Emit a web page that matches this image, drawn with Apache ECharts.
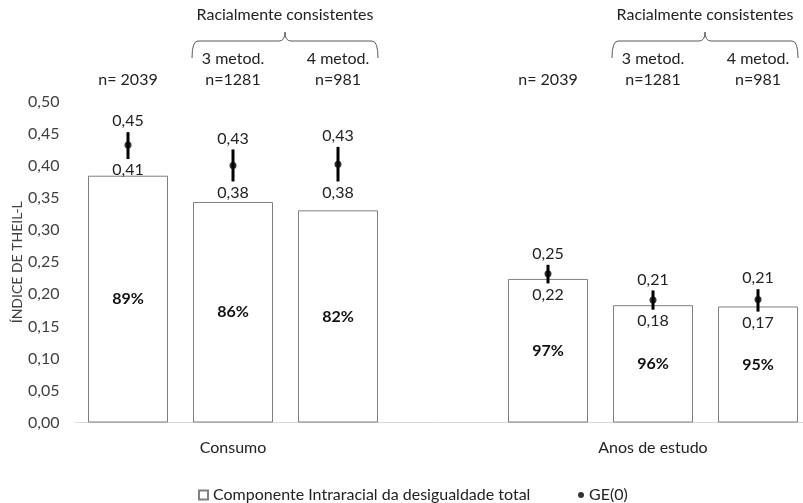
<!DOCTYPE html>
<html>
<head>
<meta charset="utf-8">
<script src="https://cdn.jsdelivr.net/npm/echarts@6/dist/echarts.min.js"></script>
<style>
  html, body { margin: 0; padding: 0; background: #fff; }
  #chart { width: 803px; height: 503px; }
</style>
</head>
<body>
<div id="chart"></div>
<script>
// categorias (o slot 3 fica vazio, separa os dois grupos)
const groupLabels = ['', 'Consumo', '', '', '', 'Anos de estudo', ''];
const sampleLabels = ['n= 2039', '3 metod.\nn=1281', '4 metod.\nn=981', '', 'n= 2039', '3 metod.\nn=1281', '4 metod.\nn=981'];

// componente intraracial (barras) e participação no total
const intraracial = [0.385, 0.344, 0.331, '-', 0.224, 0.183, 0.181];
const intraShare = ['89%', '86%', '82%', '', '97%', '96%', '95%'];

// GE(0) e intervalo
const ge0 = [0.433, 0.401, 0.403, '-', 0.232, 0.191, 0.192];
const ciLow = [0.411, 0.376, 0.376, '-', 0.217, 0.176, 0.173];
const ciHigh = [0.453, 0.426, 0.430, '-', 0.246, 0.206, 0.208];

// chaves "Racialmente consistentes" (índices das categorias)
const bracketText = 'Racialmente consistentes';
const bracketSpans = [[1, 2], [5, 6]];

const FONT = 'Lato, "Open Sans", sans-serif';
const FS = 16;
const fmt = (v) => v.toFixed(2).replace('.', ',');

const errData = [];
ge0.forEach((v, i) => {
    if (v !== '-') errData.push([i, ciLow[i], ciHigh[i]]);
});

const chart = echarts.init(document.getElementById('chart'));

const options = {
    animation: false,
    textStyle: { fontFamily: FONT },
    // o grid passa um pouco da borda direita, como no original
    grid: {
        left: 75.5,
        top: 102,
        width: 735,
        height: 320.5,
        outerBoundsMode: 'none'
    },
    legend: [
        {
            data: ['Componente Intraracial da desigualdade total'],
            left: 193,
            top: 482,
            icon: 'rect',
            itemWidth: 9,
            itemHeight: 9,
            itemGap: 4,
            textStyle: { fontSize: FS, color: '#222', fontFamily: FONT }
        },
        {
            data: ['GE(0)'],
            left: 573,
            top: 482,
            icon: 'circle',
            itemWidth: 6,
            itemHeight: 6,
            itemGap: 4,
            textStyle: { fontSize: FS, color: '#222', fontFamily: FONT }
        }
    ],
    xAxis: [
        {
            type: 'category',
            data: groupLabels,
            axisLine: { lineStyle: { color: '#d9d9d9', width: 1 } },
            axisTick: { show: false },
            axisLabel: {
                interval: 0,
                margin: 17,
                fontSize: FS,
                color: '#222',
                fontFamily: FONT
            }
        },
        {
            type: 'category',
            position: 'top',
            data: sampleLabels,
            axisLine: { show: false },
            axisTick: { show: false },
            axisLabel: {
                interval: 0,
                margin: 12,
                fontSize: FS,
                lineHeight: 21,
                color: '#222',
                fontFamily: FONT
            }
        }
    ],
    yAxis: {
        type: 'value',
        min: 0,
        max: 0.5,
        interval: 0.05,
        name: 'ÍNDICE DE THEIL-L',
        nameLocation: 'middle',
        nameGap: 51,
        nameMoveOverlap: false,
        nameTextStyle: { fontSize: 14, color: '#404040', fontFamily: FONT },
        axisLine: { show: false },
        axisTick: { show: false },
        splitLine: { show: false },
        axisLabel: {
            margin: 16,
            fontSize: FS,
            color: '#404040',
            fontFamily: FONT,
            formatter: fmt
        }
    },
    series: [
        {
            name: 'Componente Intraracial da desigualdade total',
            type: 'bar',
            data: intraracial,
            barWidth: 80,
            itemStyle: { color: '#ffffff', borderColor: '#7f7f7f', borderWidth: 1 },
            label: {
                show: true,
                position: 'inside',
                fontSize: FS,
                fontWeight: 'bold',
                color: '#111',
                fontFamily: FONT,
                formatter: (p) => intraShare[p.dataIndex]
            },
            emphasis: { disabled: true }
        },
        {
            // barra de erro + rótulos dos limites
            name: 'ci',
            type: 'custom',
            data: errData,
            z: 3,
            renderItem(params, api) {
                const lo = api.coord([api.value(0), api.value(1)]);
                const hi = api.coord([api.value(0), api.value(2)]);
                const txt = { fontSize: FS, fontFamily: FONT, fill: '#222', align: 'center' };
                return {
                    type: 'group',
                    children: [
                        {
                            type: 'line',
                            shape: { x1: lo[0], y1: lo[1], x2: hi[0], y2: hi[1] },
                            style: { stroke: '#000', lineWidth: 3 }
                        },
                        {
                            type: 'text',
                            x: hi[0],
                            y: hi[1] - 3,
                            style: Object.assign({}, txt, { text: fmt(api.value(2)), verticalAlign: 'bottom' })
                        },
                        {
                            type: 'text',
                            x: lo[0],
                            y: lo[1] + 3,
                            style: Object.assign({}, txt, { text: fmt(api.value(1)), verticalAlign: 'top' })
                        }
                    ]
                };
            }
        },
        {
            name: 'GE(0)',
            type: 'scatter',
            data: ge0,
            symbol: 'circle',
            symbolSize: 7,
            z: 4,
            itemStyle: { color: '#000' },
            emphasis: { disabled: true }
        }
    ]
};

chart.setOption(options);

// chaves desenhadas a partir da posição das categorias
const braceEls = [];
const yEnd = 58, yLine = 41, yTip = 32, r = 6;
bracketSpans.forEach(([a, b]) => {
    const x0 = chart.convertToPixel({ xAxisIndex: 0 }, a) - 41;
    const x1 = chart.convertToPixel({ xAxisIndex: 0 }, b) + 40;
    const xm = (x0 + x1) / 2;
    const st = { stroke: '#595959', lineWidth: 1, fill: null };
    braceEls.push(
        { type: 'bezierCurve', shape: { x1: x0, y1: yEnd, cpx1: x0, cpy1: yLine, x2: x0 + r, y2: yLine }, style: st },
        { type: 'line', shape: { x1: x0 + r, y1: yLine, x2: xm - r, y2: yLine }, style: st },
        { type: 'bezierCurve', shape: { x1: xm - r, y1: yLine, cpx1: xm, cpy1: yLine, x2: xm, y2: yTip }, style: st },
        { type: 'bezierCurve', shape: { x1: xm, y1: yTip, cpx1: xm, cpy1: yLine, x2: xm + r, y2: yLine }, style: st },
        { type: 'line', shape: { x1: xm + r, y1: yLine, x2: x1 - r, y2: yLine }, style: st },
        { type: 'bezierCurve', shape: { x1: x1 - r, y1: yLine, cpx1: x1, cpy1: yLine, x2: x1, y2: yEnd }, style: st },
        {
            type: 'text',
            x: xm,
            y: 15,
            style: { text: bracketText, fontSize: FS, fontFamily: FONT, fill: '#222', align: 'center', verticalAlign: 'middle' }
        }
    );
});
chart.setOption({ graphic: braceEls });
</script>
</body>
</html>
